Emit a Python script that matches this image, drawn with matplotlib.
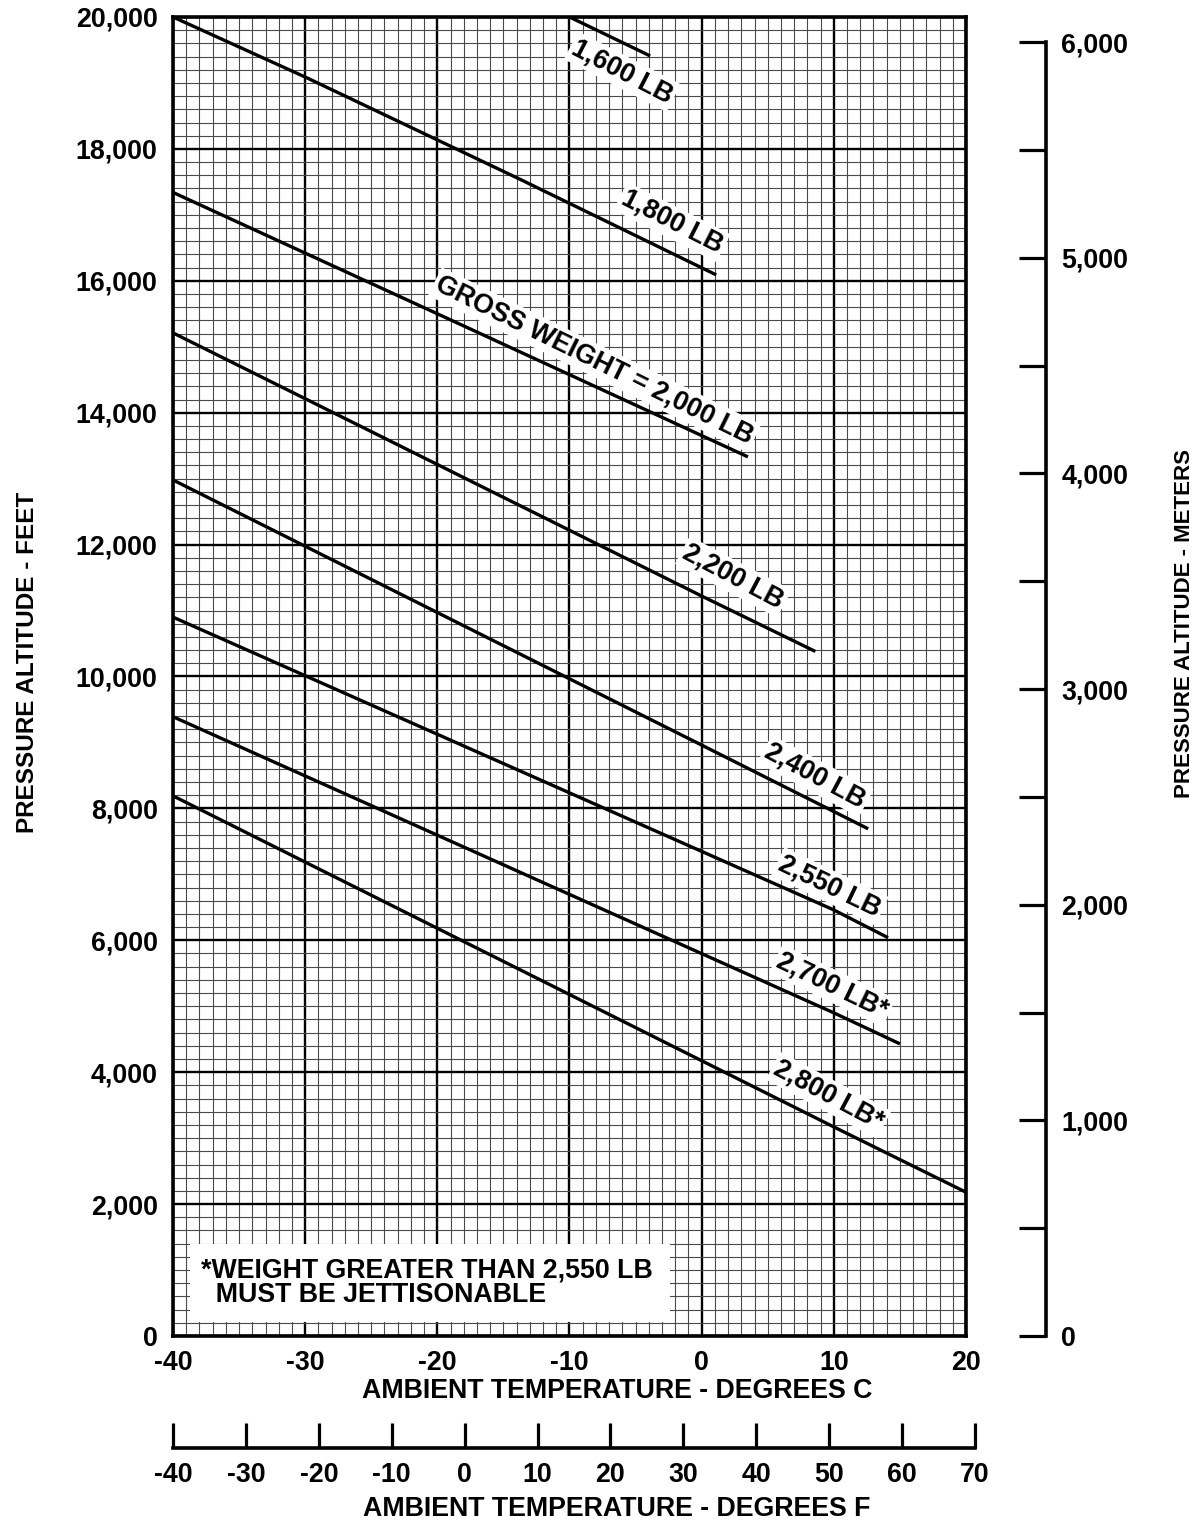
import numpy as np
import matplotlib
matplotlib.use("Agg")
import matplotlib.pyplot as plt
from matplotlib.patches import Rectangle

plt.rcParams['font.family'] = ['Liberation Sans', 'DejaVu Sans']
plt.rcParams['font.weight'] = 'bold'

# Curves: temperature (deg C) -> pressure altitude (ft)
weights = ['1,600 LB', '1,800 LB', 'GROSS WEIGHT = 2,000 LB', '2,200 LB',
           '2,400 LB', '2,550 LB', '2,700 LB*', '2,800 LB*']
curve_temp = [
    [-10, -7, -3.9],
    [-40, -30, -13.75, 1.1],
    [-40, -20, 3.5],
    [-40, 0, 8.6],
    [-40, 0, 12.6],
    [-40, 10, 14.1],
    [-40, 10, 15.0],
    [-40, 10, 20],
]
curve_alt = [
    [20000, 19710, 19410],
    [20000, 19090, 17540, 16090],
    [17340, 15500, 13330],
    [15210, 11220, 10380],
    [12980, 8960, 7690],
    [10900, 6460, 6040],
    [9390, 4900, 4430],
    [8190, 3170, 2180],
]
# where each curve label sits (deg C, ft)
label_temp = [-6.0, -2.25, -8.1, 2.4, 8.6, 9.7, 9.9, 9.6]
label_alt = [19170, 16890, 14800, 11510, 8490, 6820, 5310, 3650]

c_ticks = [-40, -30, -20, -10, 0, 10, 20]
ft_ticks = list(range(0, 20001, 2000))
ft_labels = ['0', '2,000', '4,000', '6,000', '8,000', '10,000', '12,000',
             '14,000', '16,000', '18,000', '20,000']
m_ticks = list(range(0, 6001, 500))
m_labels = ['0', '', '1,000', '', '2,000', '', '3,000', '', '4,000', '',
            '5,000', '', '6,000']
f_ticks = [-40, -30, -20, -10, 0, 10, 20, 30, 40, 50, 60, 70]

W, H = 1203, 1532
fig = plt.figure(figsize=(W / 100, H / 100), dpi=100)

def px_box(x0, y0, x1, y1):
    return [x0 / W, 1 - y1 / H, (x1 - x0) / W, (y1 - y0) / H]

fs = 19.3

ax = fig.add_axes(px_box(173, 17, 966, 1336))
ax.set_xlim(-40, 20)
ax.set_ylim(0, 20000)
ax.set_xticks(c_ticks)
ax.set_xticklabels([str(t) for t in c_ticks])
ax.set_yticks(ft_ticks)
ax.set_yticklabels(ft_labels)
ax.set_xticks(np.arange(-40, 21, 1), minor=True)
ax.set_yticks(np.arange(0, 20001, 200), minor=True)
ax.tick_params(which='both', length=0)
ax.tick_params(axis='x', pad=10, labelsize=fs)
ax.tick_params(axis='y', pad=11, labelsize=fs)
ax.grid(which='minor', color='#4a4a4a', lw=0.8)
ax.grid(which='major', color='black', lw=1.7)
ax.set_axisbelow(True)
for s in ax.spines.values():
    s.set_linewidth(2.6)
    s.set_zorder(5)

for t, a in zip(curve_temp, curve_alt):
    ax.plot(t, a, color='black', lw=2.4, solid_capstyle='butt', zorder=3)

fig.canvas.draw()
for name, t, a, lx, ly in zip(weights, curve_temp, curve_alt, label_temp, label_alt):
    p0 = ax.transData.transform((t[0], a[0]))
    p1 = ax.transData.transform((t[-1], a[-1]))
    ang = np.degrees(np.arctan2(p1[1] - p0[1], p1[0] - p0[0])) - 1.5
    ax.text(lx, ly, name, rotation=ang, rotation_mode='anchor',
            ha='center', va='center', fontsize=fs, fontweight='bold', zorder=4,
            bbox=dict(facecolor='white', edgecolor='none', pad=2))

# footnote box
ax.add_patch(Rectangle((-38.7, 212), 36.3, 1183, facecolor='white',
                       edgecolor='none', zorder=2))
ax.text(-37.9, 804, '*WEIGHT GREATER THAN 2,550 LB\n  MUST BE JETTISONABLE',
        ha='left', va='center', fontsize=fs, fontweight='bold',
        linespacing=0.95, zorder=4)

fig.text(617 / W, 1 - 1391 / H, 'AMBIENT TEMPERATURE - DEGREES C',
         ha='center', va='center', fontsize=fs, fontweight='bold')
fig.text(28 / W, 1 - 662 / H, 'PRESSURE ALTITUDE - FEET', rotation=90,
         ha='center', va='center', fontsize=17.5, fontweight='bold')

# meters scale on the right
axm = fig.add_axes(px_box(1019, 17, 1046, 1336))
axm.set_ylim(0, 6117)
axm.set_xticks([])
axm.yaxis.tick_right()
axm.set_yticks(m_ticks)
axm.set_yticklabels(m_labels)
axm.tick_params(axis='y', direction='in', length=19.5, width=2.3,
                pad=11, labelsize=fs)
axm.patch.set_visible(False)
for k in ['left', 'top', 'bottom']:
    axm.spines[k].set_visible(False)
axm.spines['right'].set_linewidth(2.6)
axm.spines['right'].set_bounds(0, 6000)
fig.text(1185 / W, 1 - 624 / H, 'PRESSURE ALTITUDE - METERS', rotation=90,
         ha='center', va='center', fontsize=16, fontweight='bold')

# fahrenheit scale below
axf = fig.add_axes(px_box(173, 1380, 975, 1448))
axf.set_xlim(-40, 70)
axf.set_yticks([])
axf.set_xticks(f_ticks)
axf.set_xticklabels([str(t) for t in f_ticks])
axf.tick_params(axis='x', direction='in', length=18, width=2.3,
                pad=10, labelsize=fs)
axf.patch.set_visible(False)
for k in ['left', 'top', 'right']:
    axf.spines[k].set_visible(False)
axf.spines['bottom'].set_linewidth(2.6)
fig.text(617 / W, 1 - 1509 / H, 'AMBIENT TEMPERATURE - DEGREES F',
         ha='center', va='center', fontsize=fs, fontweight='bold')

fig.savefig('out.png', dpi=100, facecolor='white')
